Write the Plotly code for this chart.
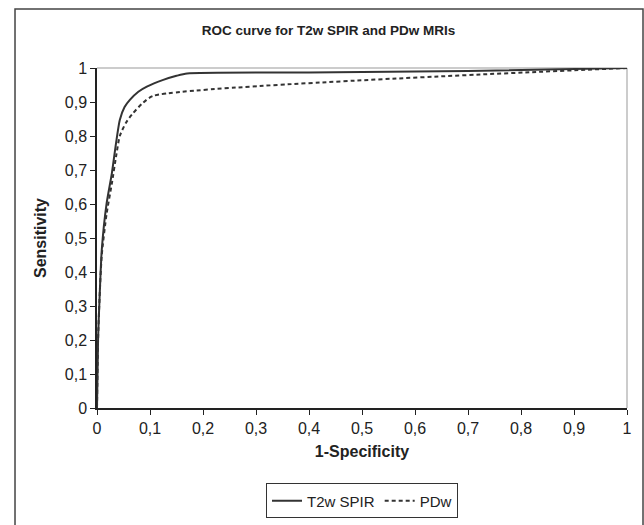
import plotly.graph_objects as go

# T2w SPIR ROC points (1-specificity, sensitivity)
t2w_x = [0.0, 0.002, 0.005, 0.009, 0.018, 0.028, 0.036, 0.043, 0.052, 0.062, 0.078, 0.094, 0.125, 0.150, 0.170, 0.400, 0.700, 1.0]
t2w_y = [0.0, 0.200, 0.330, 0.465, 0.600, 0.690, 0.780, 0.847, 0.885, 0.906, 0.930, 0.945, 0.965, 0.977, 0.984, 0.987, 0.991, 1.0]

# PDw ROC points
pdw_x = [0.0, 0.002, 0.005, 0.009, 0.018, 0.028, 0.036, 0.043, 0.055, 0.068, 0.085, 0.106, 1.0]
pdw_y = [0.0, 0.200, 0.330, 0.450, 0.570, 0.660, 0.740, 0.800, 0.840, 0.867, 0.895, 0.918, 1.0]

ticks = [i / 10 for i in range(11)]

fig = go.Figure()
fig.add_trace(go.Scatter(x=t2w_x, y=t2w_y, mode="lines", name="T2w SPIR",
                         line=dict(color="#333333", width=2, shape="spline", smoothing=0.6)))
fig.add_trace(go.Scatter(x=pdw_x, y=pdw_y, mode="lines", name="PDw",
                         line=dict(color="#333333", width=2, dash="4px,3px", shape="spline", smoothing=0.6)))

font_family = "Liberation Sans, Arial, sans-serif"

fig.update_layout(
    width=644, height=525,
    margin=dict(l=97, r=17, t=68, b=117, autoexpand=False),
    paper_bgcolor="white", plot_bgcolor="white",
    separators=", ",
    font=dict(family=font_family, size=16, color="#222222"),
    title=dict(text="<b>ROC curve for T2w SPIR and PDw MRIs</b>", x=0.51, xanchor="center",
               y=0.943, yanchor="middle", font=dict(size=13.5, color="#222222")),
    xaxis=dict(range=[0, 1], tickvals=ticks, showgrid=False, zeroline=False,
               showline=True, linecolor="#222222", linewidth=1.5, automargin=False,
               ticks="outside", ticklen=5, tickcolor="#222222", tickfont=dict(size=16),
               title=dict(text="<b>1-Specificity</b>", standoff=10, font=dict(size=16))),
    yaxis=dict(range=[0, 1], tickvals=ticks, showgrid=False, zeroline=False,
               showline=True, linecolor="#222222", linewidth=1.5, automargin=False,
               ticks="outside", ticklen=5, tickcolor="#222222", tickfont=dict(size=16),
               title=dict(text="<b>Sensitivity</b>", standoff=14, font=dict(size=16))),
    legend=dict(orientation="h", x=0.5, xanchor="center", y=-0.222, yanchor="top",
                bordercolor="#333333", borderwidth=1,
                font=dict(size=15),
                itemwidth=30, tracegroupgap=0),
    showlegend=True,
)

# plot-area top and right light grey border, outer chart frame
fig.add_shape(type="line", xref="paper", yref="paper", x0=0, x1=1, y0=1, y1=1,
              line=dict(color="#bbbbbb", width=1.5), layer="below")
fig.add_shape(type="line", xref="paper", yref="paper", x0=1, x1=1, y0=0, y1=1,
              line=dict(color="#bbbbbb", width=1.5), layer="below")
fig.add_shape(type="rect", xref="paper", yref="paper", x0=-0.1547, x1=1.0302, y0=-0.40, y1=1.1735,
              line=dict(color="#444444", width=1.5))

fig.write_html("out.html", config={"displayModeBar": False},
               post_script="document.body.style.margin='0px';")
